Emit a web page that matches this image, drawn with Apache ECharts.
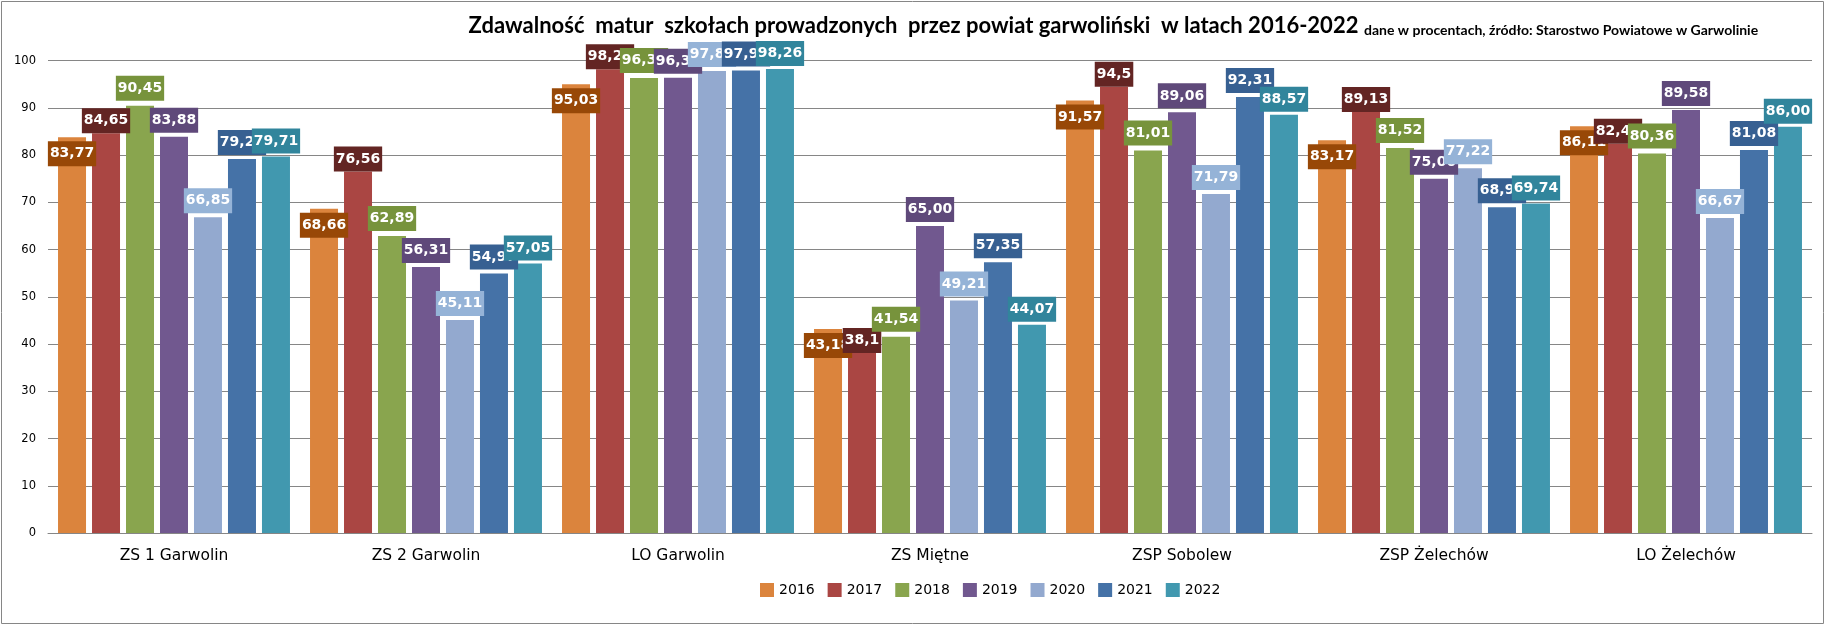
<!DOCTYPE html>
<html>
<head>
<meta charset="utf-8">
<script src="https://cdn.jsdelivr.net/npm/echarts@6/dist/echarts.min.js"></script>
<style>
html,body{margin:0;padding:0;background:#fff;}
#chart{width:1827px;height:626px;}
</style>
</head>
<body>
<div id="chart"></div>
<script>
const categories = ['ZS 1 Garwolin', 'ZS 2 Garwolin', 'LO Garwolin', 'ZS Miętne', 'ZSP Sobolew', 'ZSP Żelechów', 'LO Żelechów'];
const years = ['2016', '2017', '2018', '2019', '2020', '2021', '2022'];
const v2016 = ['83.77', '68.66', '95.03', '43.18', '91.57', '83.17', '86.11'];
const v2017 = ['84.65', '76.56', '98.21', '38.1', '94.5', '89.13', '82.43'];
const v2018 = ['90.45', '62.89', '96.32', '41.54', '81.01', '81.52', '80.36'];
const v2019 = ['83.88', '56.31', '96.37', '65.00', '89.06', '75.00', '89.58'];
const v2020 = ['66.85', '45.11', '97.81', '49.21', '71.79', '77.22', '66.67'];
const v2021 = ['79.20', '54.97', '97.92', '57.35', '92.31', '68.97', '81.08'];
const v2022 = ['79.71', '57.05', '98.26', '44.07', '88.57', '69.74', '86.00'];
const yTicks = [0, 10, 20, 30, 40, 50, 60, 70, 80, 90, 100];

const seriesValues = [v2016, v2017, v2018, v2019, v2020, v2021, v2022];
const barColors = ['#DB843D', '#AA4643', '#89A54E', '#71588F', '#93A9CF', '#4572A7', '#4198AF'];
const labelColors = ['#984807', '#632523', '#77933C', '#5F497A', '#95B3D7', '#376092', '#31859C'];
const labelPos = ['insideTop', 'top', 'top', 'top', 'top', 'top', 'top'];
const labelDist = [4, 0, 5, 4, 4, 4, 3];

const chart = echarts.init(document.getElementById('chart'));
const option = {
  animation: false,
  backgroundColor: '#fff',
  title: [
    {
      text: 'Zdawalność  matur  szkołach prowadzonych  przez powiat garwoliński  w latach 2016-2022',
      left: 'center', top: 15, padding: 0,
      textStyle: { fontFamily: 'Lato', fontWeight: 'bold', fontSize: 22, color: '#000' }
    },
    {
      text: 'dane w procentach, źródło: Starostwo Powiatowe w Garwolinie',
      left: 1364, top: 23, padding: 0,
      textStyle: { fontFamily: 'Lato', fontWeight: 'bold', fontSize: 14, color: '#000' }
    }
  ],
  graphic: [{
    type: 'rect', silent: true,
    shape: { x: 1.5, y: 1.5, width: 1822, height: 622 },
    style: { fill: 'none', stroke: '#868686', lineWidth: 1 }
  }],
  legend: {
    data: years,
    left: 755, top: 578,
    itemWidth: 14, itemHeight: 14, itemGap: 13,
    icon: 'rect',
    textStyle: { fontFamily: 'DejaVu Sans', fontSize: 14, color: '#000' }
  },
  grid: { left: 48, right: 15, top: 60.7, bottom: 93, containLabel: false },
  xAxis: {
    type: 'category',
    data: categories,
    axisLine: { lineStyle: { color: '#868686', width: 1 } },
    axisTick: { show: false },
    axisLabel: { fontFamily: 'DejaVu Sans', fontSize: 15.5, color: '#000', margin: 15 }
  },
  yAxis: {
    type: 'value',
    min: yTicks[0], max: yTicks[yTicks.length - 1], interval: 10,
    axisLine: { show: false },
    axisTick: { show: false },
    splitLine: { lineStyle: { color: '#868686', width: 1 } },
    axisLabel: { fontFamily: 'DejaVu Sans', fontSize: 11.5, color: '#000', margin: 12 }
  },
  series: seriesValues.map((vals, i) => ({
    name: years[i],
    type: 'bar',
    data: vals,
    barWidth: 28,
    barGap: '21.4%',
    itemStyle: { color: barColors[i] },
    label: {
      show: true,
      position: labelPos[i],
      distance: labelDist[i],
      formatter: p => String(p.data).replace('.', ','),
      color: '#fff',
      fontFamily: 'DejaVu Sans',
      fontWeight: 'bold',
      fontSize: 14,
      lineHeight: 17,
      backgroundColor: labelColors[i],
      padding: [4, 2, 4, 2]
    }
  }))
};
chart.setOption(option);
</script>
</body>
</html>
